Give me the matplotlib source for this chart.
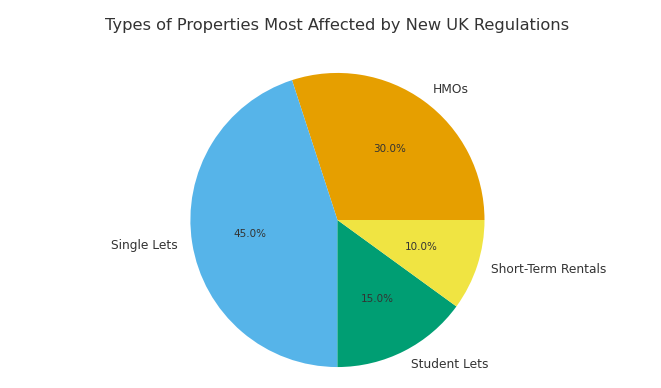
import matplotlib.pyplot as plt

# data
labels = ["HMOs", "Single Lets", "Student Lets", "Short-Term Rentals"]
shares = [30, 45, 15, 10]
colors = ["#E69F00", "#56B4E9", "#009E73", "#F0E442"]

fig = plt.figure(figsize=(6.61, 3.88), dpi=100)
ax = fig.add_axes([0.288, 0.054, 0.445, 0.758])

wedges, texts, autotexts = ax.pie(shares, labels=labels, colors=colors,
                                  autopct="%1.1f%%", startangle=0,
                                  textprops={"fontsize": 8.8, "color": "#333333"})
for t in autotexts:
    t.set_fontsize(7.5)
ax.set_aspect("equal")
ax.set_xlim(-1, 1)
ax.set_ylim(-1, 1)
ax.set_position([0.288, 0.054, 0.445, 0.758])

fig.text(0.51, 0.935, "Types of Properties Most Affected by New UK Regulations",
         fontsize=11.7, color="#333333", ha="center", va="center")

fig.savefig("out.png", dpi=100)
